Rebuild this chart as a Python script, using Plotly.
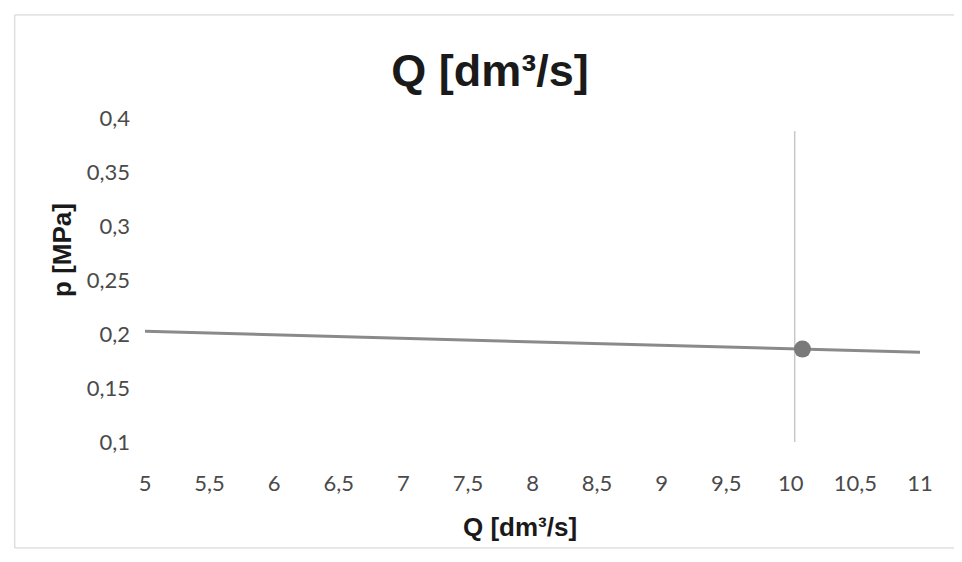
import plotly.graph_objects as go

# Data
q_line = [5, 11]
p_line = [0.2025, 0.183]
q_point = [10.09]
p_point = [0.186]
q_vert = [10.03, 10.03]
p_vert = [0.088, 0.388]

x_ticks = [5, 5.5, 6, 6.5, 7, 7.5, 8, 8.5, 9, 9.5, 10, 10.5, 11]
x_labels = ["5", "5,5", "6", "6,5", "7", "7,5", "8", "8,5", "9", "9,5", "10", "10,5", "11"]
y_ticks = [0.1, 0.15, 0.2, 0.25, 0.3, 0.35, 0.4]
y_labels = ["0,1", "0,15", "0,2", "0,25", "0,3", "0,35", "0,4"]

fig = go.Figure()
fig.add_trace(go.Scatter(x=q_vert, y=p_vert, mode="lines",
                         line=dict(color="#c8c8c8", width=1.5),
                         cliponaxis=False, showlegend=False, hoverinfo="skip"))
fig.add_trace(go.Scatter(x=q_line, y=p_line, mode="lines",
                         line=dict(color="#8a8a8a", width=3),
                         cliponaxis=False, showlegend=False))
fig.add_trace(go.Scatter(x=q_point, y=p_point, mode="markers",
                         marker=dict(color="#7a7a7a", size=17),
                         cliponaxis=False, showlegend=False))

tick_font = dict(family="Lato, Open Sans, sans-serif", size=22, color="#4a4a4a")
title_font = "Liberation Sans, Arial, sans-serif"

fig.update_layout(
    width=962, height=562,
    paper_bgcolor="white", plot_bgcolor="white",
    margin=dict(l=137, r=50, t=110, b=128),
    title=dict(text="<b>Q [dm³/s]</b>", x=0.501, xanchor="center", y=0.89, yanchor="middle",
               font=dict(family=title_font, size=45, color="#1a1a1a")),
    xaxis=dict(range=[5, 11], tickvals=x_ticks, ticktext=x_labels, showgrid=False,
               zeroline=False, showline=False, ticks="", tickfont=tick_font,
               ticklabelstandoff=26),
    yaxis=dict(range=[0.1, 0.4], tickvals=y_ticks, ticktext=y_labels, showgrid=False,
               zeroline=False, showline=False, ticks="", tickfont=tick_font,
               ticklabelstandoff=14),
    annotations=[
        dict(text="<b>Q [dm³/s]</b>", xref="paper", yref="paper", x=0.484, y=-0.262,
             xanchor="center", yanchor="middle", showarrow=False,
             font=dict(family=title_font, size=26, color="#1a1a1a")),
        dict(text="<b>p [MPa]</b>", xref="paper", yref="paper", x=-0.107, y=0.593,
             xanchor="center", yanchor="middle", showarrow=False, textangle=-90,
             font=dict(family=title_font, size=26, color="#1a1a1a")),
    ],
    shapes=[dict(type="rect", xref="paper", yref="paper", x0=-0.168, x1=1.045, y0=-0.327, y1=1.318,
                 line=dict(color="#d0d0d0", width=1))],
)

fig.write_html("out.html")
